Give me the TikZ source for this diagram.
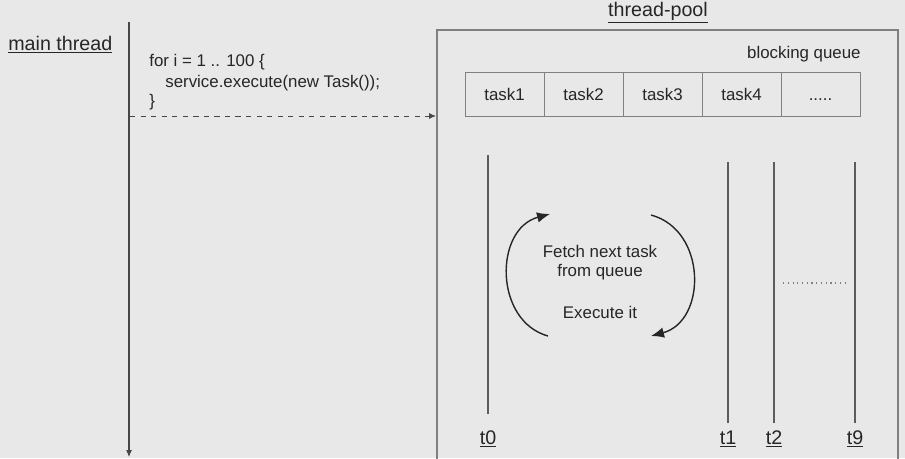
\documentclass[tikz,border=0pt]{standalone}
\usepackage{fontspec}
\setmainfont{Liberation Sans}
\usetikzlibrary{arrows.meta, positioning}

\definecolor{bg}{HTML}{E8E8E8}
\definecolor{ink}{HTML}{262626}
\definecolor{edge}{HTML}{808080}
\newcommand{\qmore}{\vphantom{k}.....}

\begin{document}
\begin{tikzpicture}[x=0.02cm, y=-0.02cm,
    lbl/.style={font=\fontsize{11.2}{13}\selectfont, text=ink, inner sep=0pt},
    txt/.style={font=\fontsize{9.6}{11.3}\selectfont, text=ink, inner sep=0pt},
    cell/.style={draw=edge, line width=0.5pt, minimum width=1.58cm, minimum height=0.88cm, txt},
    thr/.style={draw=ink!75, line width=0.6pt},
    loop/.style={draw=ink, line width=0.8pt, -{Latex[length=2.6mm, width=2.1mm]}}]

    % Background and frame
    \fill[bg] (0,0) rectangle (905,458);
    \useasboundingbox (0,0) rectangle (905,458);

    % Main thread
    \node[lbl, anchor=base west] (mainlbl) at (8,50) {\underline{main thread}};
    \coordinate (mtop) at (129,22);
    \coordinate (mbot) at (129,457);
    \draw[ink!85, line width=0.6pt, -{Latex[length=1.4mm, width=1.2mm]}] (mtop) -- (mbot);

    \node[txt, anchor=base west] (code1) at (149,66) {for i = 1 .. 100 \{};
    \node[txt, anchor=base west] (code2) at (165,87) {service.execute(new Task());};
    \node[txt, anchor=base west] (code3) at (149,106) {\}};

    % Thread pool
    \node[lbl, anchor=base] (poollbl) at (658,16) {\underline{thread-pool}};
    \draw[edge, line width=0.7pt] (437,462) |- (898,30) -- (898,462);
    \coordinate (submit) at (130,116);
    \coordinate (poolin) at (436,116);
    \draw[ink!85, dashed, line width=0.5pt, -{Latex[length=1.4mm, width=1.2mm]}] (submit) -- (poolin);

    % Blocking queue
    \node[txt, anchor=base east] (queuelbl) at (861,58) {blocking queue};
    \foreach \i/\t in {1/task1, 2/task2, 3/task3, 4/task4, 5/\qmore}
        \node[cell] (q\i) at ({465+79*(\i-0.5)},94) {\t};

    % Worker threads
    \foreach \n/\x/\a/\b in {0/488/155/414, 1/728/162/423, 2/774/162/423, 9/855/162/423} {
        \coordinate (top\n) at (\x,\a);
        \coordinate (bot\n) at (\x,\b);
        \draw[thr] (top\n) -- (bot\n);
        \node[lbl, anchor=base] (t\n) at (\x,444) {\underline{t\n}};
    }
    \draw[edge, dotted, line width=0.7pt] (783,283) -- (848,283);

    % Fetch / execute cycle
    \node[txt, anchor=base] (fetch1) at (600,257) {Fetch next task};
    \node[txt, anchor=base] (fetch2) at (600,276) {from queue};
    \node[txt, anchor=base] (exec) at (600,318) {Execute it};
    \draw[loop] (548,336) .. controls (494,321) and (494,229) .. (550,214);
    \draw[loop] (651,215) .. controls (707,230) and (707,321) .. (651,336);

\end{tikzpicture}
\end{document}
